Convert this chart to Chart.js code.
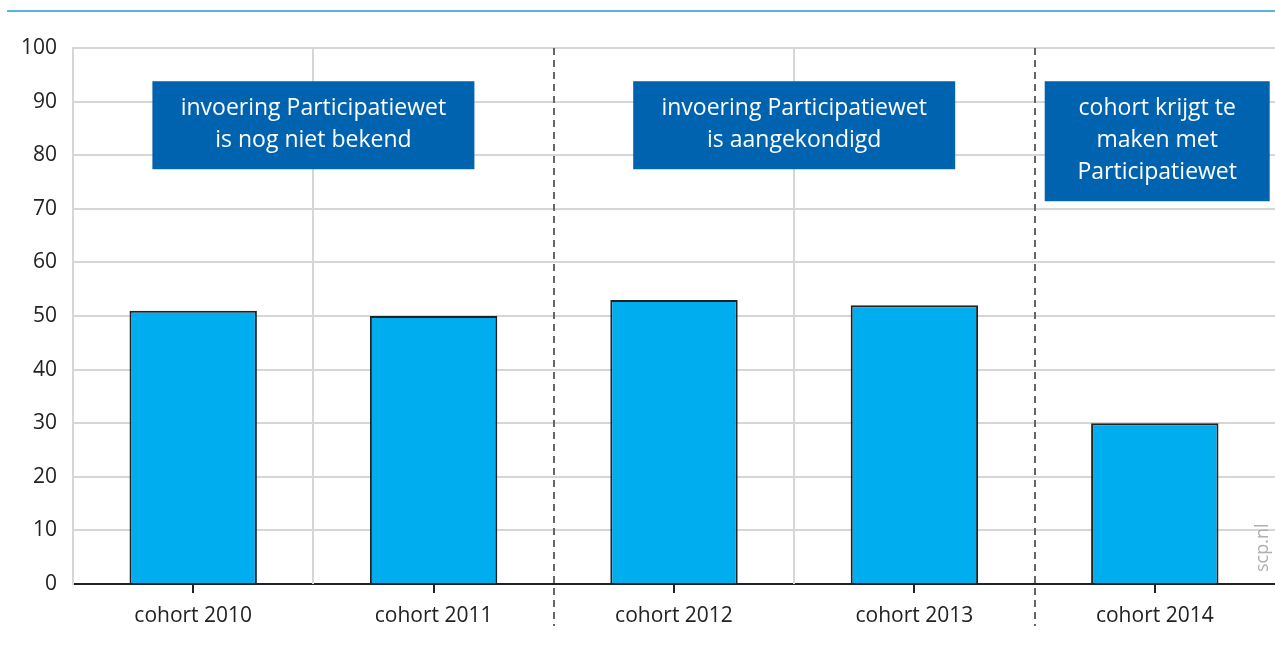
<!DOCTYPE html>
<html>
<head>
<meta charset="utf-8">
<script src="https://cdn.jsdelivr.net/npm/chart.js@4"></script>
<style>
  html, body { margin: 0; padding: 0; background: #fff; }
  #wrap { width: 1275px; height: 653px; }
</style>
</head>
<body>
<div id="wrap"><canvas id="chart" width="1275" height="653"></canvas></div>
<script>
const categories = ['cohort 2010', 'cohort 2011', 'cohort 2012', 'cohort 2013', 'cohort 2014'];
const values = [51, 50, 53, 52, 30];
const yTicks = [0, 10, 20, 30, 40, 50, 60, 70, 80, 90, 100];

const boxTexts = [
    ['invoering Participatiewet', 'is nog niet bekend'],
    ['invoering Participatiewet', 'is aangekondigd'],
    ['cohort krijgt te', 'maken met', 'Participatiewet']
];

const FONT = '"Open Sans", "Noto Sans", sans-serif';

// boxes: center (category index), top value, width px
const boxes = [
    { center: 0.5, top: 93.8, width: 322, lines: boxTexts[0] },
    { center: 2.5, top: 93.8, width: 322, lines: boxTexts[1] },
    { center: 4.01, top: 93.8, width: 225, lines: boxTexts[2] }
];

const decorPlugin = {
    id: 'decor',
    beforeDatasetsDraw(chart) {
        const ctx = chart.ctx;
        const x = chart.scales.x;
        const area = chart.chartArea;
        ctx.save();
        // solid light boundaries
        ctx.strokeStyle = '#d6d6d6';
        ctx.lineWidth = 2;
        [0.5, 2.5].forEach(v => {
            const px = Math.round(x.getPixelForValue(v));
            ctx.beginPath();
            ctx.moveTo(px, area.top);
            ctx.lineTo(px, area.bottom);
            ctx.stroke();
        });
        // dashed dark boundaries
        ctx.strokeStyle = '#666';
        ctx.lineWidth = 2;
        ctx.setLineDash([7, 5]);
        [1.5, 3.5].forEach(v => {
            const px = Math.round(x.getPixelForValue(v));
            ctx.beginPath();
            ctx.moveTo(px, area.top);
            ctx.lineTo(px, 626);
            ctx.stroke();
        });
        ctx.restore();
    },
    afterDatasetsDraw(chart) {
        const ctx = chart.ctx;
        const x = chart.scales.x;
        const y = chart.scales.y;
        ctx.save();
        boxes.forEach(b => {
            const cx = x.getPixelForValue(b.center);
            const top = y.getPixelForValue(b.top);
            const lineH = 32;
            const h = b.lines.length * lineH + 24;
            ctx.fillStyle = '#0063b0';
            ctx.fillRect(cx - b.width / 2, top, b.width, h);
            ctx.fillStyle = '#ffffff';
            ctx.font = '23px ' + FONT;
            ctx.textAlign = 'center';
            ctx.textBaseline = 'middle';
            b.lines.forEach((t, i) => {
                ctx.fillText(t, cx, top + 27 + i * lineH);
            });
        });
        // top rule
        ctx.fillStyle = '#5ab4e0';
        ctx.fillRect(7, 10, 1268, 2);
        // source
        ctx.translate(1263, 572);
        ctx.rotate(-Math.PI / 2);
        ctx.fillStyle = '#b0b0b0';
        ctx.font = '18px ' + FONT;
        ctx.textAlign = 'left';
        ctx.textBaseline = 'middle';
        ctx.fillText('scp.nl', 0, 0);
        ctx.restore();
    }
};

const config = {
    type: 'bar',
    data: {
        labels: categories,
        datasets: [{
            data: values,
            backgroundColor: '#00adee',
            borderColor: '#222222',
            borderWidth: 2,
            borderSkipped: 'bottom',
            categoryPercentage: 1,
            barPercentage: 0.53
        }]
    },
    options: {
        responsive: false,
        animation: false,
        layout: { padding: { top: 48, left: 0, right: -4, bottom: 0 } },
        plugins: {
            legend: { display: false },
            tooltip: { enabled: false }
        },
        scales: {
            x: {
                grid: {
                    offset: false,
                    drawOnChartArea: false,
                    color: '#222',
                    lineWidth: 2,
                    tickLength: 9
                },
                border: { display: true, color: '#222', width: 2 },
                ticks: {
                    color: '#222',
                    font: { family: FONT, size: 21 },
                    padding: 10
                },
                afterFit(scale) { scale.height = 653 - 584; }
            },
            y: {
                min: 0,
                max: 100,
                afterBuildTicks(scale) { scale.ticks = yTicks.map(v => ({ value: v })); },
                grid: {
                    color: '#d6d6d6',
                    lineWidth: 2,
                    drawTicks: false
                },
                border: { display: true, color: '#d6d6d6', width: 2 },
                ticks: {
                    color: '#222',
                    font: { family: FONT, size: 21 },
                    padding: 16
                },
                afterFit(scale) { scale.width = 73; }
            }
        }
    },
    plugins: [decorPlugin]
};

let myChart = new Chart(document.getElementById('chart'), config);
</script>
</body>
</html>
